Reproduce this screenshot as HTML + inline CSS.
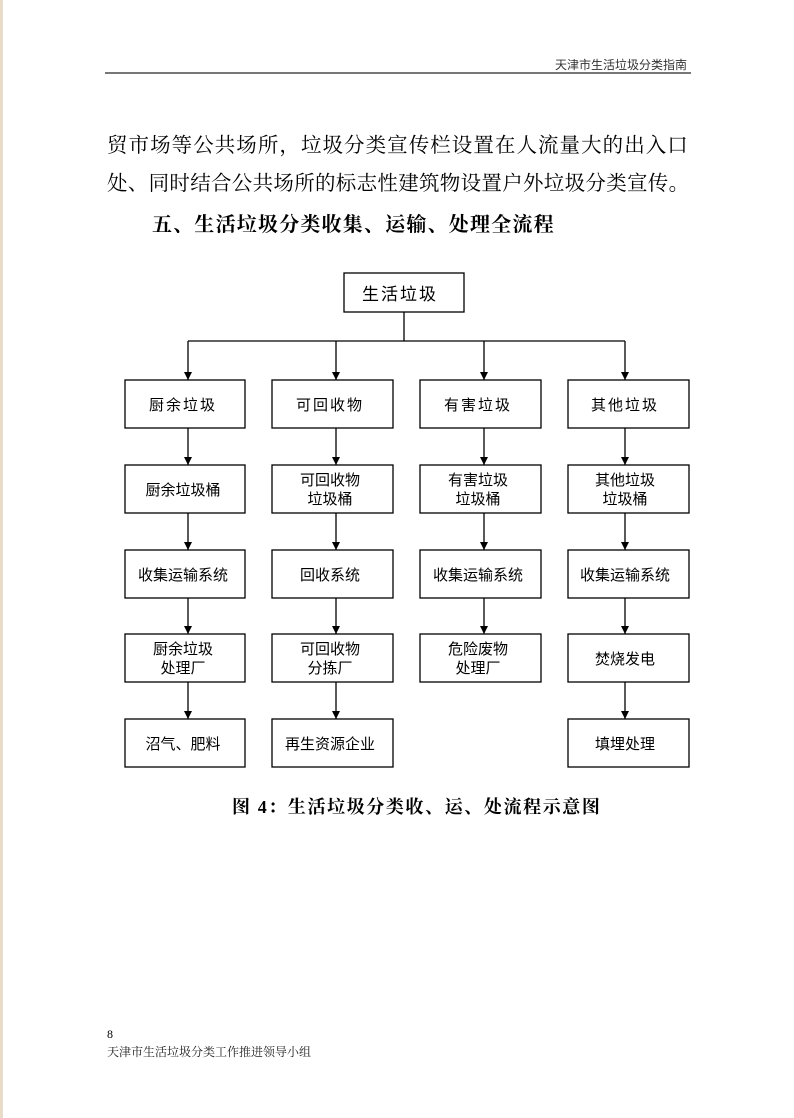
<!DOCTYPE html>
<html><head><meta charset="utf-8"><style>
html,body{margin:0;padding:0;background:#fff;}
body{width:794px;height:1118px;position:relative;overflow:hidden;font-family:"Liberation Serif","Noto Serif CJK SC","Noto Sans CJK SC",serif;color:#000;}
.t{position:absolute;white-space:nowrap;}
</style></head><body>
<div style="position:absolute;left:0;top:0;width:3px;height:1118px;background:#e8dcc8;"></div>
<div class="t" style="left:555px;top:56px;font-size:12px;font-family:'Liberation Sans','Noto Sans CJK SC',sans-serif;color:#333;">天津市生活垃圾分类指南</div>
<div style="position:absolute;left:105px;top:72px;width:586px;height:2px;background:#777;"></div>
<div class="t" style="left:107px;top:128px;font-size:20.5px;letter-spacing:1.05px;">贸市场等公共场所，垃圾分类宣传栏设置在人流量大的出入口</div>
<div class="t" style="left:107px;top:166px;font-size:20.5px;letter-spacing:0.3px;">处、同时结合公共场所的标志性建筑物设置户外垃圾分类宣传。</div>
<div class="t" style="left:152px;top:208px;font-size:20px;font-weight:bold;letter-spacing:1.2px;">五、生活垃圾分类收集、运输、处理全流程</div>
<svg width="794" height="1118" style="position:absolute;left:0;top:0" xmlns="http://www.w3.org/2000/svg">
<defs><marker id="a" markerWidth="8" markerHeight="8" refX="8" refY="4" orient="auto" markerUnits="userSpaceOnUse"><path d="M0,0 L8,4 L0,8 z" fill="#000"/></marker></defs>
<g fill="none" stroke="#000" stroke-width="1.3">
<rect x="344" y="273" width="120" height="39"/>
<line x1="404" y1="312" x2="404" y2="341"/>
<line x1="188" y1="341" x2="625" y2="341"/>
<g marker-end="url(#a)">
<line x1="188" y1="341" x2="188" y2="380"/><line x1="336" y1="341" x2="336" y2="380"/><line x1="484" y1="341" x2="484" y2="380"/><line x1="625" y1="341" x2="625" y2="380"/>
<line x1="188" y1="428" x2="188" y2="465"/><line x1="336" y1="428" x2="336" y2="465"/><line x1="484" y1="428" x2="484" y2="465"/><line x1="625" y1="428" x2="625" y2="465"/>
<line x1="188" y1="513" x2="188" y2="550"/><line x1="336" y1="513" x2="336" y2="550"/><line x1="484" y1="513" x2="484" y2="550"/><line x1="625" y1="513" x2="625" y2="550"/>
<line x1="188" y1="598" x2="188" y2="634"/><line x1="336" y1="598" x2="336" y2="634"/><line x1="484" y1="598" x2="484" y2="634"/><line x1="625" y1="598" x2="625" y2="634"/>
<line x1="188" y1="682" x2="188" y2="719"/><line x1="336" y1="682" x2="336" y2="719"/><line x1="625" y1="682" x2="625" y2="719"/>
</g>
<rect x="125" y="380" width="120" height="48"/><rect x="272" y="380" width="121" height="48"/><rect x="420" y="380" width="121" height="48"/><rect x="568" y="380" width="121" height="48"/>
<rect x="125" y="465" width="120" height="48"/><rect x="272" y="465" width="121" height="48"/><rect x="420" y="465" width="121" height="48"/><rect x="568" y="465" width="121" height="48"/>
<rect x="125" y="550" width="120" height="48"/><rect x="272" y="550" width="121" height="48"/><rect x="420" y="550" width="121" height="48"/><rect x="568" y="550" width="121" height="48"/>
<rect x="125" y="634" width="120" height="48"/><rect x="272" y="634" width="121" height="48"/><rect x="420" y="634" width="121" height="48"/><rect x="568" y="634" width="121" height="48"/>
<rect x="125" y="719" width="120" height="48"/><rect x="272" y="719" width="121" height="48"/><rect x="568" y="719" width="121" height="48"/>
</g>
<g font-family="Liberation Sans, Noto Sans CJK SC, sans-serif" font-size="15" text-anchor="middle" fill="#000">
<text x="400" y="300" font-size="17" letter-spacing="2">生活垃圾</text>
<text x="183" y="410" letter-spacing="2">厨余垃圾</text><text x="330" y="410" letter-spacing="2">可回收物</text><text x="478" y="410" letter-spacing="2">有害垃圾</text><text x="625" y="410" letter-spacing="2">其他垃圾</text>
<text x="183" y="495">厨余垃圾桶</text>
<text x="330" y="485">可回收物</text><text x="330" y="504">垃圾桶</text>
<text x="478" y="485">有害垃圾</text><text x="478" y="504">垃圾桶</text>
<text x="625" y="485">其他垃圾</text><text x="625" y="504">垃圾桶</text>
<text x="183" y="580">收集运输系统</text><text x="330" y="580">回收系统</text><text x="478" y="580">收集运输系统</text><text x="625" y="580">收集运输系统</text>
<text x="183" y="654">厨余垃圾</text><text x="183" y="673">处理厂</text>
<text x="330" y="654">可回收物</text><text x="330" y="673">分拣厂</text>
<text x="478" y="654">危险废物</text><text x="478" y="673">处理厂</text>
<text x="625" y="664">焚烧发电</text>
<text x="183" y="749">沼气、肥料</text><text x="330" y="749">再生资源企业</text><text x="625" y="749">填埋处理</text>
</g>
</svg>
<div class="t" style="left:232px;top:793px;font-size:18px;font-weight:bold;letter-spacing:1.6px;">图 4：生活垃圾分类收、运、处流程示意图</div>
<div class="t" style="left:107px;top:1027px;font-size:12px;">8</div>
<div class="t" style="left:107px;top:1043px;font-size:12px;color:#222;">天津市生活垃圾分类工作推进领导小组</div>
</body></html>
